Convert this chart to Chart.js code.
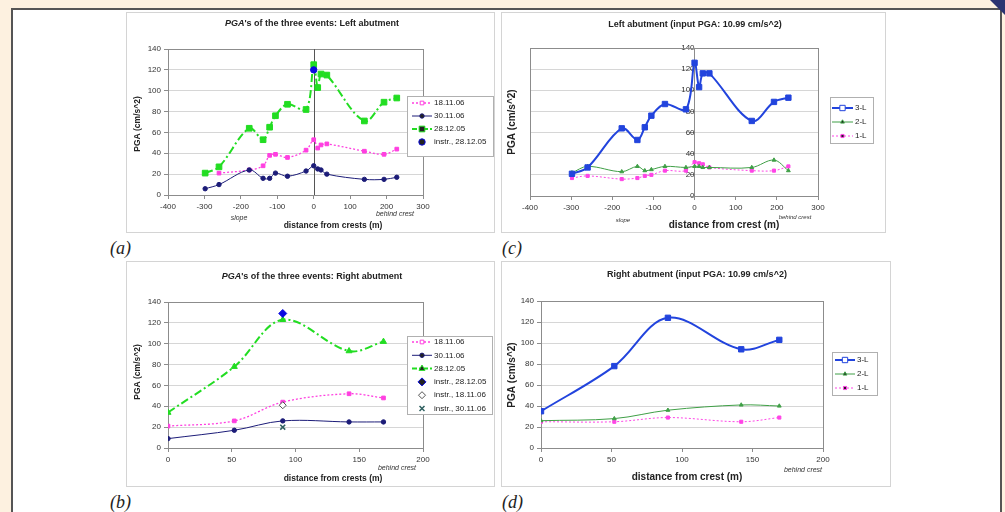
<!DOCTYPE html>
<html><head><meta charset="utf-8">
<script src="https://cdn.jsdelivr.net/npm/chart.js@4.4.1/dist/chart.umd.min.js"></script>
<style>
body{margin:0;width:1005px;height:512px;background:#fdf1e0;overflow:hidden;position:relative;font-family:"Liberation Sans",Arial,sans-serif}
#panel{position:absolute;left:11px;top:8px;width:987px;height:520px;background:#fff;border:2px solid #555;}
canvas{position:absolute}
.lab{position:absolute;font-family:"Liberation Serif","DejaVu Serif",serif;font-style:italic;font-size:18px;color:#222;line-height:18px}
#curl{position:absolute;right:0;top:0;width:15px;height:15px;background:#2b3472;clip-path:polygon(0 0,100% 0,100% 100%)}
</style></head>
<body>
<div id="panel"></div>
<div id="curl"></div>
<canvas id="ca" width="369" height="221" style="left:126px;top:12px"></canvas>
<canvas id="cc" width="385" height="221" style="left:501px;top:12px"></canvas>
<canvas id="cb" width="369" height="226" style="left:126px;top:261px"></canvas>
<canvas id="cd" width="390" height="226" style="left:501px;top:261px"></canvas>
<div class="lab" style="left:110px;top:239px">(a)</div>
<div class="lab" style="left:502px;top:239px">(c)</div>
<div class="lab" style="left:110px;top:493px">(b)</div>
<div class="lab" style="left:502px;top:493px">(d)</div>
<script>
// ---------- data ----------
const xLeft = [-298,-260,-177,-139,-121,-105,-72,-21,0,11,20,36,139,193,228];
const a_181106 = [null,21,24,28,38,39,36,43,53,45,48,49,42,39,44];
const a_301106 = [6,10,24,16,16,21,18,23,28,25,24,20,15,15,17];
const a_281205 = [21,27,64,53,65,76,87,82,125,103,116,115,71,89,93];
const a_instrX = [0];
const a_instr281205 = [120];

const c_3L = [21,27,64,53,65,76,87,82,126,103,116,116,71,89,93];
const c_2L = [22,28,23,28,24,25,28,27,28,28,27,27,27,34,24];
const c_1L = [17,19,16,17,19,20,24,24,32,31,30,27,24,24,28];

const xRight = [0,52,90,142,169];
const b_181106 = [21,26,44,52,48];
const b_301106 = [9,17,26,25,25];
const b_281205 = [34,78,123,93,102];
const b_instrX = [90];
const b_instr281205 = [129];
const b_instr181106 = [41];
const b_instr301106 = [20];

const d_3L = [35,78,124,94,103];
const d_2L = [26,28,36,41,40];
const d_1L = [25,25,29,25,29];

const xTicksLeft = [-400,-300,-200,-100,0,100,200,300];
const xTicksRight = [0,50,100,150,200];
const yTicks = [0,20,40,60,80,100,120,140];

// ---------- helpers ----------
const FAM = '"Liberation Sans", Arial, sans-serif';
const pts = (xs, ys) => xs.map((x, i) => ({x, y: ys[i]}));
const C = {
  green: '#22dd22', navy: '#1c1c78', pink: '#ff3fe0', blue: '#0a0ae0',
  blue3: '#2244dd', green2: '#3f9f46', pink1: '#ff44e6', teal: '#2f6060', grey: '#555'
};

function drawMarker(ctx, style, r, x, y, fill, stroke, bw) {
  ctx.save();
  ctx.fillStyle = fill; ctx.strokeStyle = stroke; ctx.lineWidth = bw || 1; ctx.setLineDash([]);
  ctx.beginPath();
  if (style === 'rect') {
    const s = r * Math.SQRT1_2;
    ctx.rect(x - s, y - s, 2 * s, 2 * s);
  } else if (style === 'rectRot') {
    ctx.moveTo(x, y - r); ctx.lineTo(x + r, y); ctx.lineTo(x, y + r); ctx.lineTo(x - r, y); ctx.closePath();
  } else if (style === 'triangle') {
    ctx.moveTo(x, y - r); ctx.lineTo(x + r * 0.866, y + r * 0.5); ctx.lineTo(x - r * 0.866, y + r * 0.5); ctx.closePath();
  } else if (style === 'crossRot') {
    const s = r * Math.SQRT1_2;
    ctx.moveTo(x - s, y - s); ctx.lineTo(x + s, y + s); ctx.moveTo(x + s, y - s); ctx.lineTo(x - s, y + s);
    ctx.stroke(); ctx.restore(); return;
  } else {
    ctx.arc(x, y, r, 0, Math.PI * 2);
  }
  ctx.fill(); ctx.stroke();
  ctx.restore();
}

const deco = {
  id: 'deco',
  beforeDatasetsDraw(chart, args, o) {
    const ctx = chart.ctx, ca = chart.chartArea;
    ctx.save();
    ctx.strokeStyle = '#8c8c8c'; ctx.lineWidth = 1;
    ctx.strokeRect(Math.round(ca.left) + 0.5, Math.round(ca.top) + 0.5, Math.round(ca.right - ca.left), Math.round(ca.bottom - ca.top));
    if (o.zeroLine) {
      const px = Math.round(chart.scales.x.getPixelForValue(0)) + 0.5;
      ctx.strokeStyle = '#555';
      ctx.beginPath(); ctx.moveTo(px, ca.top); ctx.lineTo(px, ca.bottom); ctx.stroke();
    }
    ctx.restore();
  },
  afterDraw(chart, args, o) {
    const ctx = chart.ctx;
    ctx.save();
    ctx.strokeStyle = '#d4d4d4'; ctx.lineWidth = 1;
    ctx.strokeRect(0.5, 0.5, chart.width - 1, chart.height - 1);
    ctx.fillStyle = '#222';
    ctx.textBaseline = 'middle';
    let tw = 0;
    o.title.parts.forEach(p => { ctx.font = (p.i ? 'italic ' : '') + 'bold 9px ' + FAM; p.w = ctx.measureText(p.t).width; tw += p.w; });
    let tx = o.title.x - tw / 2;
    ctx.textAlign = 'left';
    o.title.parts.forEach(p => { ctx.font = (p.i ? 'italic ' : '') + 'bold 9px ' + FAM; ctx.fillText(p.t, tx, o.title.y); tx += p.w; });
    ctx.textAlign = 'center';
    ctx.font = 'bold ' + o.axisFont + 'px ' + FAM;
    ctx.fillText(o.xTitle.t, o.xTitle.x, o.xTitle.y);
    ctx.save();
    ctx.translate(o.yTitle.x, o.yTitle.y); ctx.rotate(-Math.PI / 2);
    ctx.fillText(o.yTitle.t, 0, 0);
    ctx.restore();
    ctx.fillStyle = '#333';
    (o.notes || []).forEach(n => { ctx.font = 'italic ' + n.s + 'px ' + FAM; ctx.fillText(n.t, n.x, n.y); });
    const L = o.legend;
    ctx.fillStyle = '#fff'; ctx.fillRect(L.x, L.y, L.w, L.h);
    ctx.strokeStyle = '#b0b0b0'; ctx.strokeRect(L.x + 0.5, L.y + 0.5, L.w, L.h);
    ctx.textAlign = 'left';
    ctx.font = '8px ' + FAM;
    L.items.forEach((it, i) => {
      const y = L.y0 + i * L.dy;
      if (it.line) {
        ctx.save();
        ctx.strokeStyle = it.color; ctx.lineWidth = it.lw; ctx.setLineDash(it.dash || []);
        ctx.beginPath(); ctx.moveTo(L.sx0, y); ctx.lineTo(L.sx1, y); ctx.stroke();
        ctx.restore();
      }
      drawMarker(ctx, it.style, it.r, (L.sx0 + L.sx1) / 2, y, it.fill || it.color, it.stroke || it.color, it.bw);
      ctx.fillStyle = '#222';
      ctx.fillText(it.label, L.tx, y);
    });
    ctx.restore();
  }
};

// plot box: [left, top, right, bottom] in canvas pixels
function scales(xmin, xmax, xt, yAtZero, box, H) {
  const tickFont = {family: FAM, size: 8};
  const y = {
    min: 0, max: 140,
    afterBuildTicks: s => { s.ticks = yTicks.map(v => ({value: v})); },
    grid: {color: '#d6d6d6', tickLength: 4, tickColor: '#8c8c8c'},
    border: {display: !!yAtZero, color: '#8c8c8c'},
    ticks: {font: tickFont, color: '#333', padding: 3}
  };
  if (yAtZero) { y.position = {x: 0}; } else { y.position = 'left'; y.afterFit = s => { s.width = box[0]; }; }
  return {
    x: {
      type: 'linear', min: xmin, max: xmax, position: 'bottom',
      afterBuildTicks: s => { s.ticks = xt.map(v => ({value: v})); },
      afterFit: s => { s.height = H - box[3]; },
      grid: {drawOnChartArea: false, tickLength: 4, tickColor: '#8c8c8c'},
      border: {display: false},
      ticks: {font: tickFont, color: '#333', padding: 3, maxRotation: 0, autoSkip: false}
    },
    y
  };
}

function ds(label, data, color, o) {
  return Object.assign({
    label, data, borderColor: color, backgroundColor: color, pointBorderColor: color,
    pointBackgroundColor: color, borderWidth: 1, tension: 0.35, pointRadius: 2.5,
    pointStyle: 'rect', pointBorderWidth: 1, showLine: true, spanGaps: false
  }, o || {});
}

function make(id, datasets, range, xt, yAtZero, box, decoOpts) {
  const cv = document.getElementById(id);
  const W = cv.width, H = cv.height;
  const padding = {left: yAtZero ? box[0] : 0, top: box[1], right: W - box[2], bottom: 0};
  return new Chart(cv, {
    type: 'line',
    data: {datasets},
    options: {
      responsive: false, animation: false, devicePixelRatio: 1,
      layout: {padding},
      plugins: {legend: {display: false}, tooltip: {enabled: false}, title: {display: false}, deco: decoOpts},
      scales: scales(range[0], range[1], xt, yAtZero, box, H)
    },
    plugins: [deco]
  });
}

const DASHDOT = [8, 3, 2, 3];
const DOT = [2, 2];

// ---------- (a) ----------
make('ca', [
  ds('instr., 28.12.05', pts(a_instrX, a_instr281205), C.blue, {showLine: false, pointStyle: 'circle', pointRadius: 3.2}),
  ds('28.12.05', pts(xLeft, a_281205), C.green, {borderWidth: 2, borderDash: DASHDOT, pointRadius: 4}),
  ds('30.11.06', pts(xLeft, a_301106), C.navy, {pointStyle: 'circle', pointRadius: 2.2}),
  ds('18.11.06', pts(xLeft, a_181106), C.pink, {borderWidth: 1.3, borderDash: DOT, pointRadius: 2.6})
], [-400, 300], xTicksLeft, false, [42, 37, 297, 183], {
  zeroLine: true, axisFont: 8.5,
  title: {x: 186, y: 12, parts: [{t: 'PGA', i: true}, {t: "'s of the three events: Left abutment"}]},
  xTitle: {t: 'distance from crests (m)', x: 207, y: 214},
  yTitle: {t: 'PGA (cm/s^2)', x: 12, y: 112},
  notes: [{t: 'slope', x: 113, y: 206, s: 7}, {t: 'behind crest', x: 269, y: 202, s: 7}],
  legend: {x: 281, y: 84, w: 86, h: 60, y0: 91, dy: 13, sx0: 286, sx1: 306, tx: 308, items: [
    {label: '18.11.06', line: true, color: C.pink, lw: 1.3, dash: DOT, style: 'rect', r: 2.6},
    {label: '30.11.06', line: true, color: C.navy, lw: 1, style: 'circle', r: 2.2},
    {label: '28.12.05', line: true, color: C.green, lw: 2, dash: [5, 2, 2, 2], style: 'rect', r: 4},
    {label: 'instr., 28.12.05', line: false, color: C.blue, style: 'circle', r: 3.2}
  ]}
});

// ---------- (c) ----------
make('cc', [
  ds('3-L', pts(xLeft, c_3L), C.blue3, {borderWidth: 2, pointRadius: 3.8}),
  ds('2-L', pts(xLeft, c_2L), C.green2, {pointStyle: 'triangle', pointRadius: 2.2}),
  ds('1-L', pts(xLeft, c_1L), C.pink1, {borderDash: DOT, pointRadius: 2.2})
], [-400, 300], xTicksLeft, true, [29, 36, 317, 184], {
  axisFont: 10,
  title: {x: 194, y: 13, parts: [{t: 'Left abutment (input PGA: 10.99 cm/s^2)'}]},
  xTitle: {t: 'distance from crest (m)', x: 223, y: 213},
  yTitle: {t: 'PGA (cm/s^2)', x: 11, y: 110},
  notes: [{t: 'slope', x: 122, y: 208, s: 6}, {t: 'behind crest', x: 294, y: 205, s: 6}],
  legend: {x: 329, y: 85, w: 43, h: 46, y0: 96, dy: 14, sx0: 331, sx1: 352, tx: 354, items: [
    {label: '3-L', line: true, color: C.blue3, lw: 2, style: 'rect', r: 3.8},
    {label: '2-L', line: true, color: C.green2, lw: 1, style: 'triangle', r: 2.2},
    {label: '1-L', line: true, color: C.pink1, lw: 1, dash: DOT, style: 'rect', r: 2.2}
  ]}
});

// ---------- (b) ----------
make('cb', [
  ds('instr., 28.12.05', pts(b_instrX, b_instr281205), C.blue, {showLine: false, pointStyle: 'rectRot', pointRadius: 4}),
  ds('instr., 18.11.06', pts(b_instrX, b_instr181106), C.grey, {showLine: false, pointStyle: 'rectRot', pointRadius: 3.5, pointBackgroundColor: '#fff'}),
  ds('instr., 30.11.06', pts(b_instrX, b_instr301106), C.teal, {showLine: false, pointStyle: 'crossRot', pointRadius: 3.5, pointBorderWidth: 1.5}),
  ds('28.12.05', pts(xRight, b_281205), C.green, {borderWidth: 2, borderDash: DASHDOT, pointStyle: 'triangle', pointRadius: 3.5}),
  ds('30.11.06', pts(xRight, b_301106), C.navy, {pointStyle: 'circle', pointRadius: 2.2}),
  ds('18.11.06', pts(xRight, b_181106), C.pink, {borderWidth: 1.3, borderDash: DOT, pointRadius: 2.6})
], [0, 200], xTicksRight, false, [42, 41, 297, 187], {
  axisFont: 8.5,
  title: {x: 186, y: 16, parts: [{t: 'PGA', i: true}, {t: "'s of the three events: Right abutment"}]},
  xTitle: {t: 'distance from crests (m)', x: 207, y: 218},
  yTitle: {t: 'PGA (cm/s^2)', x: 12, y: 111},
  notes: [{t: 'behind crest', x: 271, y: 207, s: 7}],
  legend: {x: 281, y: 75, w: 85, h: 78, y0: 81, dy: 13.3, sx0: 286, sx1: 306, tx: 308, items: [
    {label: '18.11.06', line: true, color: C.pink, lw: 1.3, dash: DOT, style: 'rect', r: 2.6},
    {label: '30.11.06', line: true, color: C.navy, lw: 1, style: 'circle', r: 2.2},
    {label: '28.12.05', line: true, color: C.green, lw: 2, dash: [5, 2, 2, 2], style: 'triangle', r: 3.5},
    {label: 'instr., 28.12.05', line: false, color: C.blue, style: 'rectRot', r: 4},
    {label: 'instr., 18.11.06', line: false, color: C.grey, fill: '#fff', style: 'rectRot', r: 3.5},
    {label: 'instr., 30.11.06', line: false, color: C.teal, style: 'crossRot', r: 3.5, bw: 1.5}
  ]}
});

// ---------- (d) ----------
make('cd', [
  ds('3-L', pts(xRight, d_3L), C.blue3, {borderWidth: 2, pointRadius: 3.8}),
  ds('2-L', pts(xRight, d_2L), C.green2, {pointStyle: 'triangle', pointRadius: 2.2}),
  ds('1-L', pts(xRight, d_1L), C.pink1, {borderDash: DOT, pointRadius: 2.2})
], [0, 200], xTicksRight, false, [40, 40, 322, 187], {
  axisFont: 10,
  title: {x: 196, y: 14, parts: [{t: 'Right abutment (input PGA: 10.99 cm/s^2)'}]},
  xTitle: {t: 'distance from crest (m)', x: 186, y: 216},
  yTitle: {t: 'PGA (cm/s^2)', x: 11, y: 114},
  notes: [{t: 'behind crest', x: 302, y: 209, s: 7}],
  legend: {x: 331, y: 91, w: 45, h: 43, y0: 99, dy: 14, sx0: 334, sx1: 354, tx: 356, items: [
    {label: '3-L', line: true, color: C.blue3, lw: 2, style: 'rect', r: 3.8},
    {label: '2-L', line: true, color: C.green2, lw: 1, style: 'triangle', r: 2.2},
    {label: '1-L', line: true, color: C.pink1, lw: 1, dash: DOT, style: 'rect', r: 2.2}
  ]}
});
</script>
</body></html>
